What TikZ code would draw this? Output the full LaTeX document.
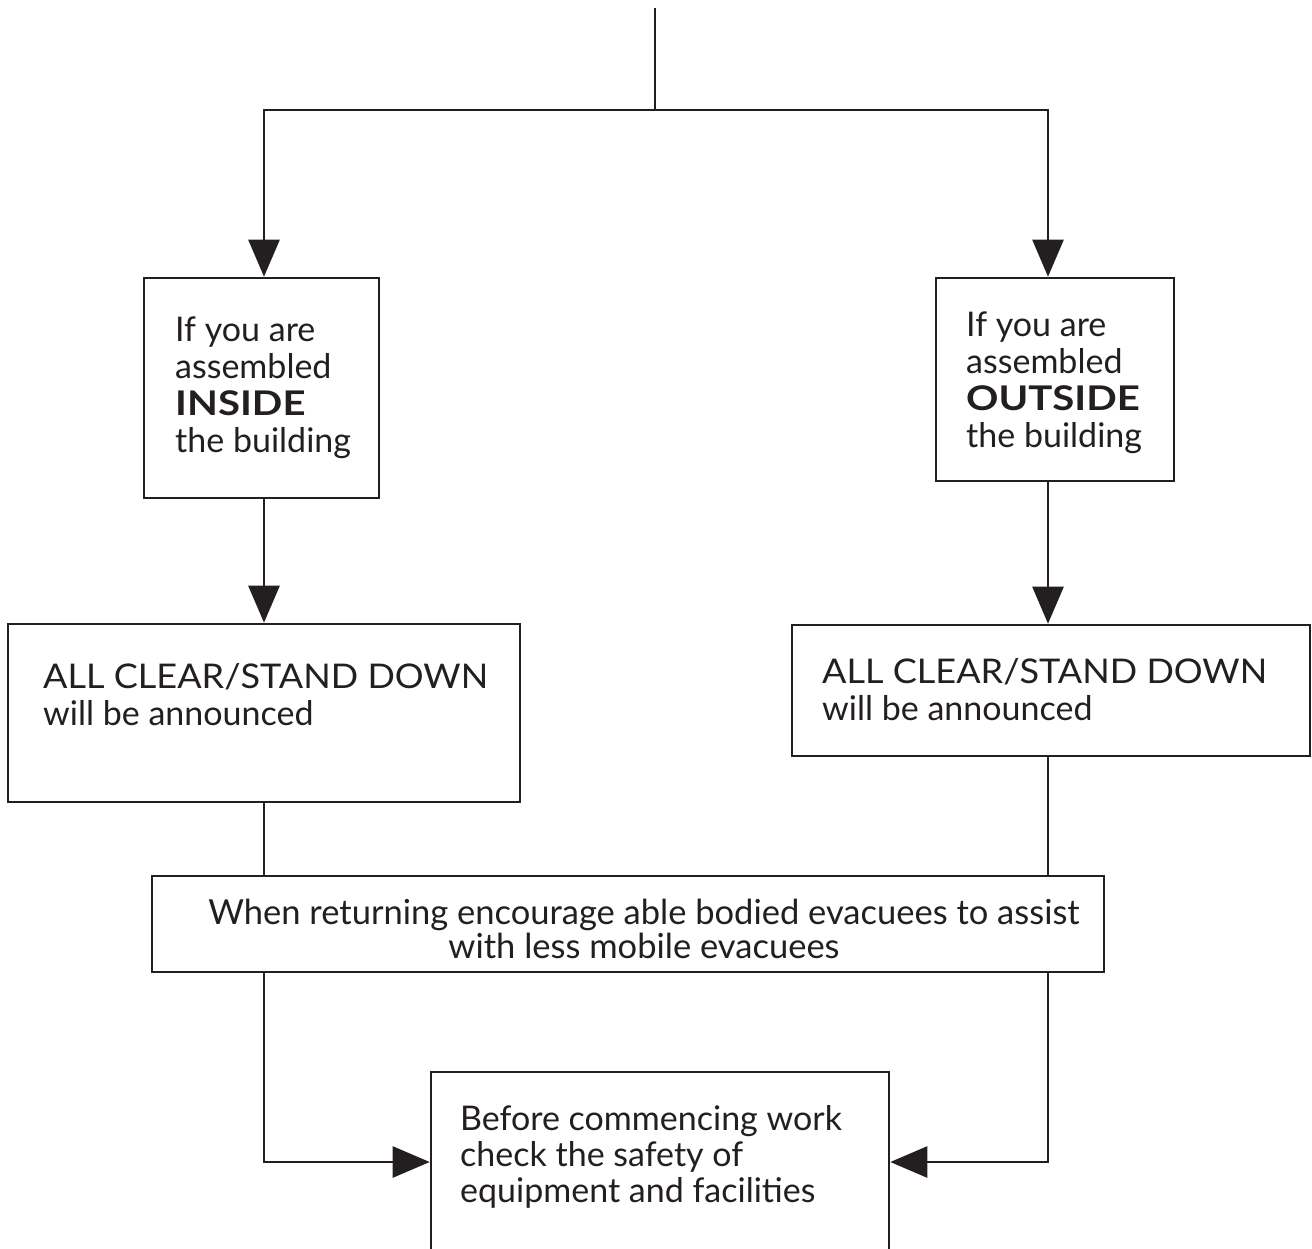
\documentclass[tikz,border=0pt]{standalone}
\usepackage{fontspec}
\setmainfont{Lato}
\newfontfamily\wideb[FakeStretch=1.18]{Lato}
\newfontfamily\capsf[FakeStretch=1.06]{Lato}
\usetikzlibrary{arrows.meta,calc}
\definecolor{ink}{HTML}{231F20}
\begin{document}
\begin{tikzpicture}[x=1pt,y=-1pt,
  box/.style={draw=ink, line width=2.6pt, inner sep=0pt},
  txt/.style={inner sep=0pt, align=left, text=ink, font=\fontsize{34}{37}\selectfont},
  ln/.style={draw=ink, line width=2.6pt},
  arr/.style={draw=ink, line width=2.6pt, -{Triangle[length=37pt,width=31pt]}}]
\useasboundingbox[fill=white] (0,0) rectangle (1312,1248);
\clip (0,0) rectangle (1312,1248);

% boxes
\node[box, minimum width=235pt, minimum height=220pt] (b1) at (261.5,388) {};
\node[box, minimum width=238pt, minimum height=203pt] (bo) at (1055,379.5) {};
\node[box, minimum width=512pt, minimum height=178pt] (b2l) at (264,713) {};
\node[box, minimum width=518pt, minimum height=131pt] (b2r) at (1051,690.5) {};
\node[box, minimum width=952pt, minimum height=96pt] (b3) at (628,924) {};
\node[box, minimum width=458pt, minimum height=248pt] (b4) at (660,1196) {};

% texts
\node[txt, anchor=west] (t1) at (175,388) {If you are\\assembled\\{\wideb\bfseries INSIDE}\\the building};
\node[txt, anchor=west] (to) at (966,383) {If you are\\assembled\\{\wideb\bfseries OUTSIDE}\\the building};
\node[txt, anchor=west] (t2l) at (43,695) {{\capsf ALL CLEAR/STAND DOWN}\\will be announced};
\node[txt, anchor=west] (t2r) at (822,690) {{\capsf ALL CLEAR/STAND DOWN}\\will be announced};
\node[txt, align=center, anchor=center, font=\fontsize{34.5}{34}\selectfont] (t3) at (644,929)
  {When returning encourage able bodied evacuees to assist\\with less mobile evacuees};
\node[txt, anchor=west, font=\fontsize{34}{36}\selectfont] (t4) at (460,1157)
  {Before commencing work\\check the safety of\\equipment and facilities};

% connectors
\coordinate (top) at (655,8);
\coordinate (j) at (655,110);
\coordinate (xl) at (264,0);
\coordinate (xr) at (1048,0);
\coordinate (yb) at (0,1162);

\draw[ln] (top) -- (j);
\draw[arr] (j) -| (b1.north -| xl);
\draw[arr] (j) -| (bo.north -| xr);
\draw[arr] (b1.south -| xl) -- (b2l.north -| xl);
\draw[arr] (bo.south -| xr) -- (b2r.north -| xr);
\draw[ln] (b2l.south -| xl) -- (b3.north -| xl);
\draw[ln] (b2r.south -| xr) -- (b3.north -| xr);
\draw[arr] (b3.south -| xl) |- (b4.west |- yb);
\draw[arr] (b3.south -| xr) |- (b4.east |- yb);
\end{tikzpicture}
\end{document}
